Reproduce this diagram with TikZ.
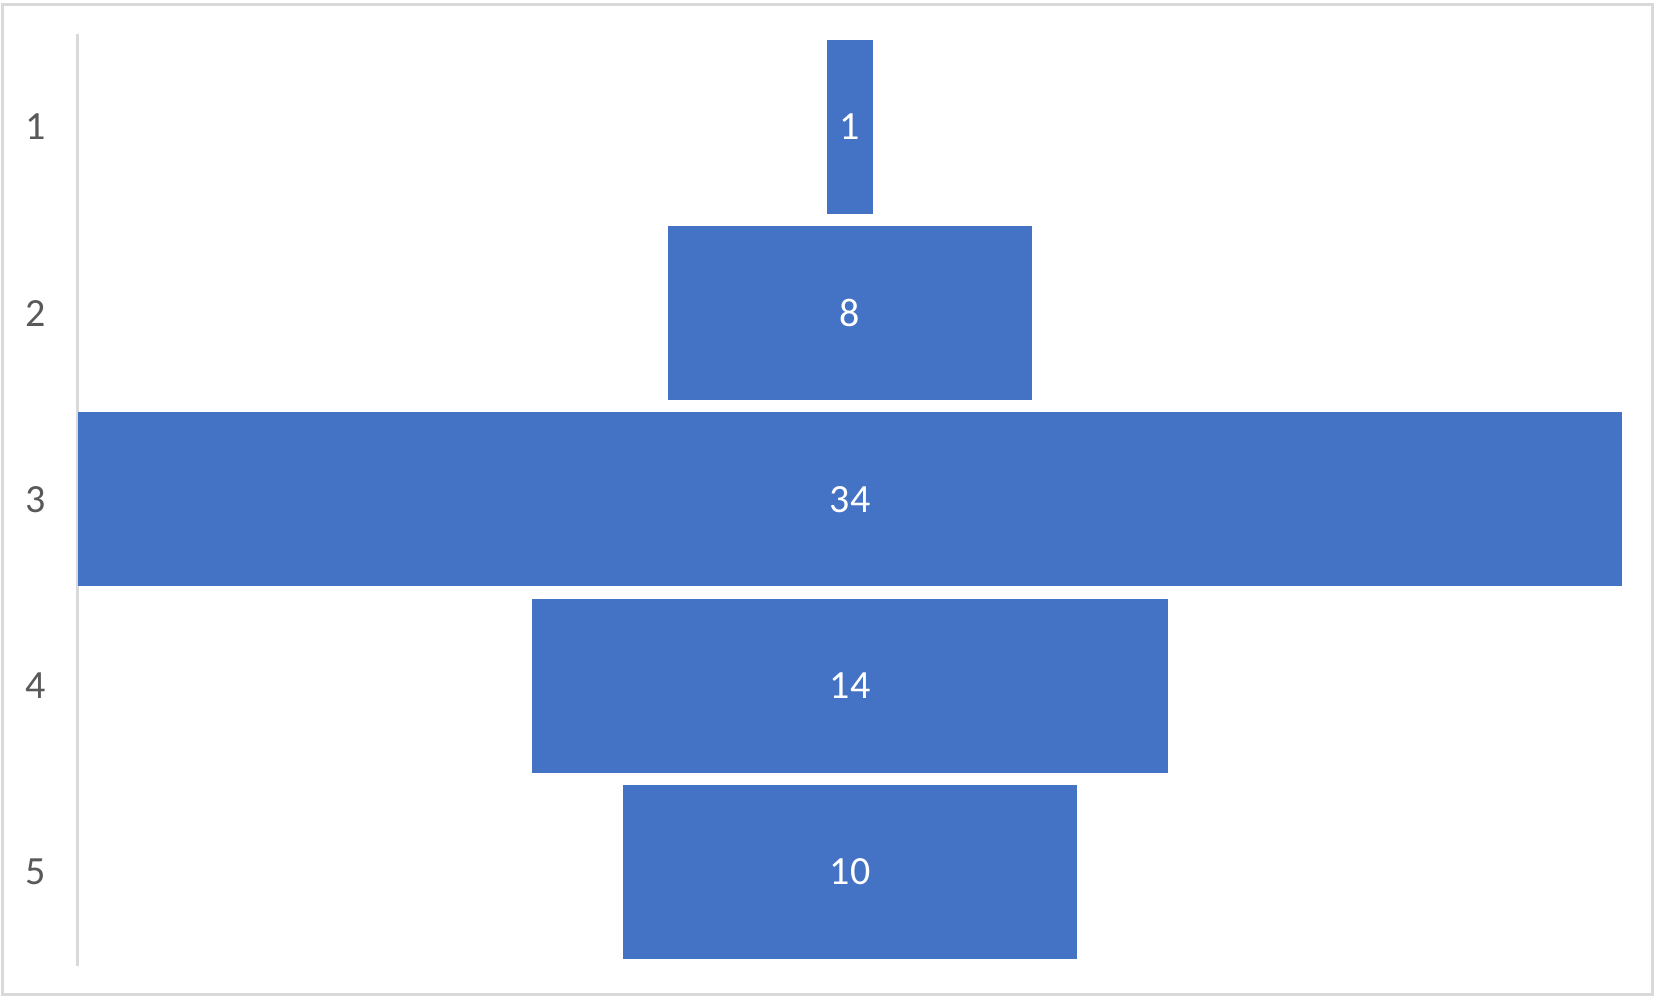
\documentclass[tikz,border=0pt]{standalone}
\usepackage{fontspec}
\setmainfont{Carlito}
\definecolor{barblue}{HTML}{4472C4}
\definecolor{labgray}{HTML}{595959}
\definecolor{linegray}{HTML}{D9D9D9}
\tikzset{
  bar/.style={fill=barblue, draw=none, inner sep=0pt, minimum height=87pt, text=white, font=\fontsize{20}{24}\selectfont},
  catlabel/.style={inner sep=0pt, text=labgray, font=\fontsize{20}{24}\selectfont},
  frame/.style={draw=linegray, line width=1.5pt},
  axisline/.style={draw=linegray, line width=1.5pt}
}
\begin{document}
\begin{tikzpicture}[x=0.5pt,y=-0.5pt]
\useasboundingbox[fill=white] (0,0) rectangle (1659,1003);
\draw[frame] (2,4) rectangle (1652,994);
\coordinate (axtop) at (77.5,34);
\coordinate (axbot) at (77.5,966);
\draw[axisline] (axtop) -- (axbot);
\node[bar, minimum width=22.7pt]  (b1) at (850,127)   {1};
\node[bar, minimum width=181.6pt] (b2) at (850,313.2) {8};
\node[bar, minimum width=771.8pt] (b3) at (850,499.4) {34};
\node[bar, minimum width=317.8pt] (b4) at (850,685.6) {14};
\node[bar, minimum width=227pt]   (b5) at (850,871.8) {10};
\node[catlabel] (c1) at (36,127)   {1};
\node[catlabel] (c2) at (36,313.2) {2};
\node[catlabel] (c3) at (36,499.4) {3};
\node[catlabel] (c4) at (36,685.6) {4};
\node[catlabel] (c5) at (36,871.8) {5};
\end{tikzpicture}
\end{document}
